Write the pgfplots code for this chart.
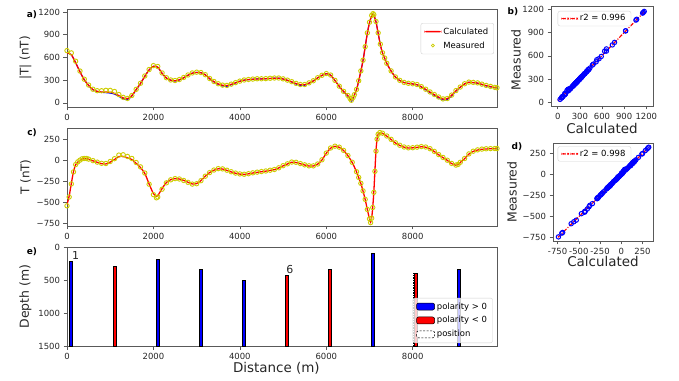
\documentclass[border=0pt]{standalone}
\usepackage{fontspec}
\setmainfont{DejaVu Sans}
\usepackage{pgfplots}
\usepackage{pgfplotstable}
\pgfplotsset{compat=1.18}
\definecolor{meas}{RGB}{205,205,0}
\definecolor{spine}{gray}{0.35}
\definecolor{lgframe}{gray}{0.82}

\pgfplotstableread{
x calc meas bl
0 660 690 660
100 635 660 635
200 530 550 530
300 410 420 410
400 305 312 305
500 230 235 230
600 175 180 172
700 152 160 148
800 143 160 138
900 142 165 134
1000 140 165 128
1100 125 150 115
1200 95 110 85
1300 65 72 52
1400 55 58 44
1500 95 97 88
1600 175 178 172
1700 255 258 255
1800 350 355 350
1900 435 440 435
2000 482 492 482
2100 470 480 470
2200 390 395 390
2300 328 332 328
2400 300 302 298
2500 292 295 288
2600 305 308 302
2700 332 335 330
2800 365 368 365
2900 392 395 392
3000 402 405 402
3100 398 400 398
3200 370 372 370
3300 320 322 318
3400 280 282 276
3500 250 252 244
3600 232 234 222
3700 228 230 218
3800 245 247 238
3900 265 267 262
4000 285 287 285
4100 300 302 300
4200 307 309 307
4300 312 314 312
4400 316 318 316
4500 316 318 316
4600 318 320 318
4700 322 324 322
4800 326 328 326
4900 326 328 326
5000 315 317 315
5100 298 300 296
5200 278 280 274
5300 255 257 248
5400 240 242 230
5500 240 242 232
5600 262 264 258
5700 290 292 290
5800 330 332 330
5900 362 364 362
6000 385 387 385
6100 365 367 365
6200 295 297 295
6300 218 220 218
6400 150 152 148
6500 95 97 88
6550 55 57 46
6580 32 34 22
6620 68 70 60
6650 105 108 100
6700 175 178 175
6750 290 292 290
6800 420 422 420
6850 560 563 560
6900 740 742 740
6950 920 925 920
7000 1060 1065 1060
7050 1150 1155 1150
7080 1172 1178 1172
7100 1160 1165 1160
7150 1070 1075 1070
7200 920 925 920
7250 770 775 770
7300 660 662 660
7350 590 592 590
7400 520 522 520
7500 420 422 420
7600 340 342 340
7700 295 297 295
7800 268 270 268
7900 256 258 256
8000 250 252 250
8100 240 242 238
8200 212 214 208
8300 178 180 172
8400 142 144 134
8500 108 110 98
8600 75 77 64
8700 50 52 38
8800 55 57 44
8900 100 102 92
9000 160 162 155
9100 207 209 205
9200 250 252 250
9300 272 274 272
9400 268 270 266
9500 262 264 258
9600 245 247 240
9700 228 230 222
9800 215 217 210
9900 202 204 198
9950 197 199 194
}\tabA

\pgfplotstableread{
x calc meas
0 -530 -545
50 -430 -440
100 -280 -285
150 -140 -142
200 -55 -55
250 -25 -22
300 -5 -2
350 10 14
400 15 18
450 15 18
500 8 10
600 -10 -8
700 -28 -26
800 -44 -40
900 -47 -42
1000 -25 -18
1100 5 15
1200 40 58
1300 42 62
1400 25 42
1500 5 18
1600 -40 -30
1700 -90 -82
1800 -160 -155
1900 -285 -288
2000 -400 -412
2070 -431 -450
2100 -425 -440
2200 -340 -348
2300 -268 -272
2400 -235 -236
2500 -222 -222
2600 -226 -226
2700 -243 -244
2800 -265 -266
2900 -285 -287
3000 -280 -282
3100 -245 -246
3200 -192 -193
3300 -150 -150
3400 -122 -120
3500 -105 -103
3600 -108 -106
3700 -124 -122
3800 -142 -140
3900 -158 -156
4000 -168 -166
4100 -172 -170
4200 -165 -163
4300 -155 -153
4400 -147 -145
4500 -140 -138
4600 -133 -131
4700 -124 -122
4800 -115 -113
4900 -95 -93
5000 -70 -68
5100 -48 -46
5200 -27 -25
5300 -30 -28
5400 -45 -43
5500 -60 -58
5600 -72 -70
5700 -72 -70
5800 -50 -48
5900 0 2
6000 80 82
6100 140 142
6200 162 164
6300 150 152
6400 112 114
6500 50 52
6600 -30 -28
6700 -142 -140
6750 -210 -208
6800 -280 -278
6850 -370 -368
6900 -470 -468
6950 -590 -588
7000 -700 -700
7025 -740 -745
7050 -690 -692
7075 -560 -565
7100 -380 -385
7125 -130 -135
7150 110 105
7175 250 248
7200 305 305
7240 324 326
7300 316 318
7400 283 285
7500 243 245
7600 202 204
7700 173 175
7800 152 154
7900 142 144
8000 144 146
8100 150 152
8200 157 159
8300 152 154
8400 132 134
8500 100 102
8600 62 64
8700 28 30
8800 -5 -3
8900 -43 -41
9000 -63 -61
9050 -55 -53
9100 -30 -28
9200 15 17
9300 70 72
9400 102 104
9500 118 120
9600 127 129
9700 131 133
9800 133 135
9900 134 136
9950 134 136
}\tabC

\newcommand\pbar[4]{%
  \addplot[fill=#4, draw=black, line width=0.6bp, forget plot] coordinates {(#1,1500) (#1,#3) (#2,#3) (#2,1500)} -- cycle;
}

\pgfplotsset{
  base/.style={
    scale only axis, anchor=south west,
    axis line style={spine, line width=0.6bp},
    tick align=outside, tick pos=left,
    major tick length=3.5bp,
    every tick/.style={spine, line width=0.6bp},
    tick label style={font=\fontsize{8.5}{10}\selectfont, text=black!85},
    /pgf/number format/assume math mode=true,
    /pgf/number format/1000 sep={},
    label style={text=black!85},
    legend style={font=\fontsize{8.5}{10}\selectfont, draw=lgframe, fill=white, rounded corners=2bp, inner xsep=3.5bp, inner ysep=2.5bp, row sep=2bp},
    legend cell align=left,
  },
  redline/.style={legend image code/.code={\path[fill=red, draw=none] (0bp,-0.75bp) rectangle (17bp,0.75bp);}},
  fitline/.style={legend image code/.code={%
    \path[fill=red, draw=none] (0bp,-0.8bp) rectangle (4.5bp,0.8bp);
    \path[fill=red, draw=none] (6bp,-0.8bp) rectangle (7.5bp,0.8bp);
    \path[fill=red, draw=none] (9bp,-0.8bp) rectangle (13.5bp,0.8bp);
    \path[fill=red, draw=none] (15bp,-0.8bp) rectangle (16.5bp,0.8bp);}},
}

\begin{document}
\begin{tikzpicture}
\path[use as bounding box] (0,0) rectangle (679bp,381bp);

% ---- a)
\begin{axis}[base, at={(67bp,274bp)}, width=430bp, height=98bp,
  xmin=0, xmax=9950, ymin=-55, ymax=1240,
  xtick={0,2000,4000,6000,8000}, ytick={0,300,600,900,1200},
  ylabel={|T| (nT)},
  ylabel style={at={(axis description cs:-0.0965,0.5)}, anchor=center, font=\fontsize{12}{14}\selectfont},
  legend style={at={(0.993,0.857)}, anchor=north east}]
\addplot[only marks, mark=o, mark size=2.2bp, meas, line width=0.9bp, forget plot] table[x=x,y=meas]{\tabA};
\addplot[blue, line width=1bp, smooth, forget plot] table[x=x,y=bl]{\tabA};
\addplot[red, line width=1.3bp, smooth, forget plot] table[x=x,y=calc]{\tabA};
\addlegendimage{redline}
\addlegendentry{Calculated}
\addlegendimage{legend image code/.code={\path[draw=meas, fill=none, line width=0.7bp] (8.5bp,0bp) circle (1.5bp);}}
\addlegendentry{Measured}
\end{axis}

% ---- c)
\begin{axis}[base, at={(67bp,155bp)}, width=430bp, height=98bp,
  xmin=0, xmax=9950, ymin=-785, ymax=380,
  xtick={0,2000,4000,6000,8000}, ytick={-750,-500,-250,0,250},
  yticklabels={−750,−500,−250,0,250},
  ylabel={T (nT)},
  ylabel style={at={(axis description cs:-0.0965,0.5)}, anchor=center, font=\fontsize{12}{14}\selectfont}]
\addplot[only marks, mark=o, mark size=2.2bp, meas, line width=0.9bp] table[x=x,y=meas]{\tabC};
\addplot[red, line width=1.3bp, smooth] table[x=x,y=calc]{\tabC};
\end{axis}

% ---- e)
\begin{axis}[base, at={(67bp,35bp)}, width=430bp, height=99bp,
  xmin=0, xmax=9950, ymin=0, ymax=1500, y dir=reverse,
  xtick={0,2000,4000,6000,8000}, ytick={0,500,1000,1500},
  ylabel={Depth (m)}, xlabel={Distance (m)},
  ylabel style={at={(axis description cs:-0.0965,0.5)}, anchor=center, font=\fontsize{12.5}{14}\selectfont},
  xlabel style={at={(axis description cs:0.487,0)}, anchor=center, yshift=-22bp, font=\fontsize{13.5}{15}\selectfont},
  legend style={at={(0.99,0.03)}, anchor=south east, fill opacity=0.8, text opacity=1}]
\pbar{55}{125}{214}{blue}
\pbar{1065}{1135}{295}{red}
\pbar{2055}{2125}{188}{blue}
\pbar{3060}{3130}{341}{blue}
\pbar{4065}{4135}{498}{blue}
\pbar{5045}{5115}{422}{red}
\pbar{6045}{6115}{331}{red}
\pbar{7045}{7115}{102}{blue}
\pbar{8040}{8110}{400}{red}
\pbar{9040}{9110}{335}{blue}
\addplot[draw=black, dash pattern=on 1.5bp off 1bp, line width=0.5bp, forget plot] coordinates {(8010,1500) (8010,400) (8105,400) (8105,1500)} -- cycle;
\node[font=\fontsize{11}{12}\selectfont, text=black!85] at (axis cs:200,136) {1};
\node[font=\fontsize{11}{12}\selectfont, text=black!85] at (axis cs:5155,348) {6};
\addlegendimage{legend image code/.code={\draw[fill=blue,draw=black,fill opacity=1,line width=0.5bp] (0bp,-3.5bp) rectangle (18bp,3.5bp);}}
\addlegendentry{polarity > 0}
\addlegendimage{legend image code/.code={\draw[fill=red,draw=black,fill opacity=1,line width=0.5bp] (0bp,-3.5bp) rectangle (18bp,3.5bp);}}
\addlegendentry{polarity < 0}
\addlegendimage{legend image code/.code={\draw[fill=white,draw=black,fill opacity=1,dash pattern=on 2bp off 1.5bp,line width=0.6bp] (0bp,-3.5bp) rectangle (18bp,3.5bp);}}
\addlegendentry{position}
\end{axis}

% ---- b)
\begin{axis}[base, at={(551bp,275bp)}, width=102bp, height=100bp,
  xmin=-91, xmax=1291, ymin=-52, ymax=1248,
  xtick={0,300,600,900,1200}, ytick={0,300,600,900,1200},
  xlabel={Calculated}, ylabel={Measured},
  ylabel style={at={(axis description cs:-0.343,0.46)}, anchor=center, font=\fontsize{12.5}{14}\selectfont},
  xlabel style={at={(axis description cs:0.5,0)}, anchor=center, yshift=-22bp, font=\fontsize{13.5}{15}\selectfont},
  legend style={at={(0.066,0.95)}, anchor=north west, row sep=0bp, inner ysep=1.5bp}]
\addplot[only marks, mark=o, blue, mark size=2.2bp, line width=1bp, forget plot] table[x=calc,y=meas]{\tabA};
\addplot[red, line width=1.2bp, dash pattern=on 4bp off 1.5bp on 1bp off 1.5bp, forget plot] coordinates {(5,15) (1165,1165)};
\addlegendimage{fitline}
\addlegendentry{r2 = 0.996}
\end{axis}

% ---- d)
\begin{axis}[base, at={(553bp,140bp)}, width=100bp, height=98bp,
  xmin=-804, xmax=374, ymin=-794, ymax=376,
  xtick={-750,-500,-250,0,250}, xticklabels={-750,-500,-250,0,250},
  ytick={-750,-500,-250,0,250}, yticklabels={−750,−500,−250,0,250},
  xlabel={Calculated}, ylabel={Measured},
  ylabel style={at={(axis description cs:-0.41,0.5)}, anchor=center, font=\fontsize{12.5}{14}\selectfont},
  xlabel style={at={(axis description cs:0.5,0)}, anchor=center, yshift=-20bp, font=\fontsize{13.5}{15}\selectfont},
  legend style={at={(0.047,0.966)}, anchor=north west, row sep=0bp, inner ysep=1.5bp}]
\addplot[only marks, mark=o, blue, mark size=2.2bp, line width=1bp, forget plot] table[x=calc,y=meas]{\tabC};
\addplot[red, line width=1.2bp, dash pattern=on 4bp off 1.5bp on 1bp off 1.5bp, forget plot] coordinates {(-745,-750) (330,330)};
\addlegendimage{fitline}
\addlegendentry{r2 = 0.998}
\end{axis}

\node[font=\bfseries\fontsize{9}{10}\selectfont] at (32bp,366bp) {a)};
\node[font=\bfseries\fontsize{9}{10}\selectfont] at (32bp,248bp) {c)};
\node[font=\bfseries\fontsize{9}{10}\selectfont] at (32bp,129bp) {e)};
\node[font=\bfseries\fontsize{9}{10}\selectfont] at (513bp,369bp) {b)};
\node[font=\bfseries\fontsize{9}{10}\selectfont] at (517bp,234bp) {d)};
\end{tikzpicture}
\end{document}
